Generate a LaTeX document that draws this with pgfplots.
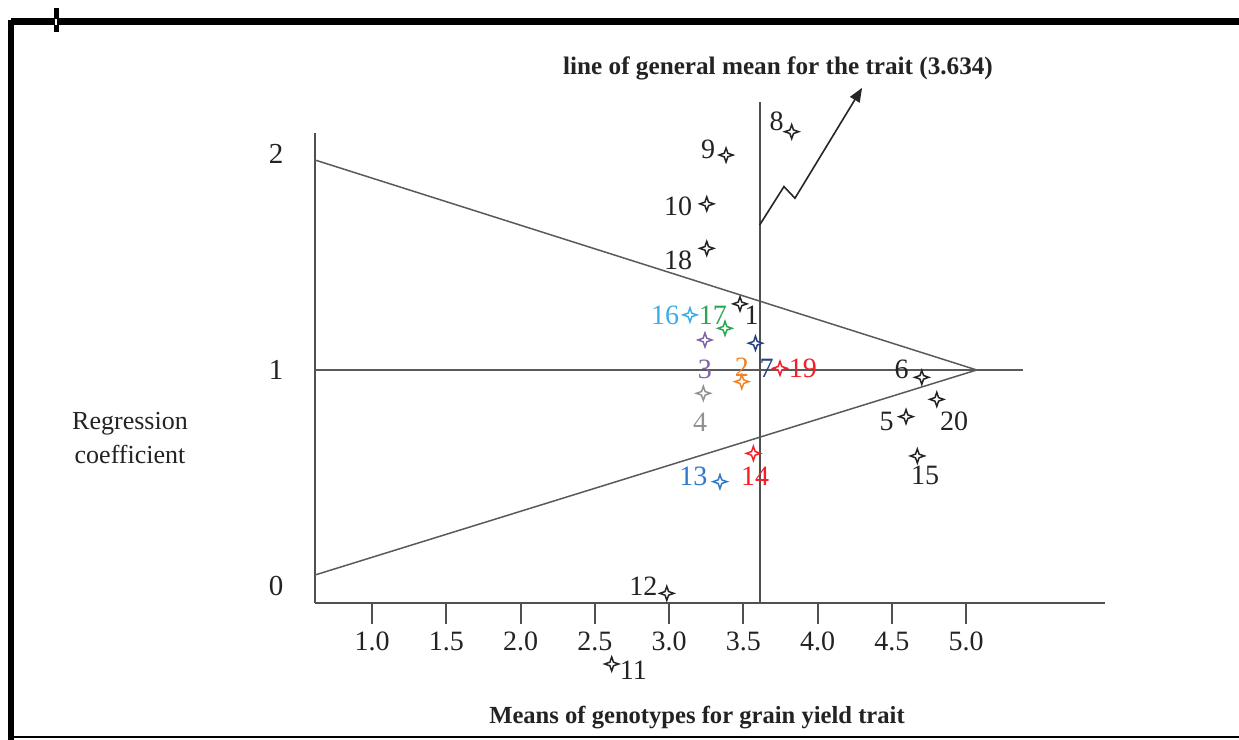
\documentclass[border=0pt]{standalone}
\usepackage{pgfplots}
\pgfplotsset{compat=1.18}
\usetikzlibrary{arrows.meta}
\usepackage{fontspec}
\setmainfont{Liberation Serif}
\definecolor{axisgray}{RGB}{80,80,80}
\definecolor{linegray}{RGB}{90,90,90}
\definecolor{txtblack}{RGB}{35,35,35}
\definecolor{cCyan}{RGB}{60,172,230}
\definecolor{cGreen}{RGB}{40,168,80}
\definecolor{cPurple}{RGB}{128,100,170}
\definecolor{cOrange}{RGB}{240,130,40}
\definecolor{cNavy}{RGB}{40,65,130}
\definecolor{cRed}{RGB}{245,30,40}
\definecolor{cGray}{RGB}{145,145,145}
\definecolor{cBlue}{RGB}{50,120,200}
\pgfdeclareplotmark{sparkle}{%
  \pgfpathmoveto{\pgfqpoint{0pt}{3.5pt}}%
  \pgfpathlineto{\pgfqpoint{0.9pt}{0.9pt}}%
  \pgfpathlineto{\pgfqpoint{3.5pt}{0pt}}%
  \pgfpathlineto{\pgfqpoint{0.9pt}{-0.9pt}}%
  \pgfpathlineto{\pgfqpoint{0pt}{-3.5pt}}%
  \pgfpathlineto{\pgfqpoint{-0.9pt}{-0.9pt}}%
  \pgfpathlineto{\pgfqpoint{-3.5pt}{0pt}}%
  \pgfpathlineto{\pgfqpoint{-0.9pt}{0.9pt}}%
  \pgfpathclose
  \pgfusepathqfillstroke}
\newcommand{\lbl}{\fontsize{14}{14}\selectfont}
\begin{document}
\begin{tikzpicture}
\path[use as bounding box] (0,0) rectangle (619.5pt,-370pt);
\fill[white] (0,0) rectangle (619.5pt,-370pt);
\begin{scope}[x=0.5pt,y=-0.5pt]
  % frame
  \draw[black, line width=3.5pt] (11,21) -- (1245,21);
  \draw[black, line width=3pt] (11,19.5) -- (11,745);
  \draw[black, line width=1.3pt] (11,737) -- (1245,737);
  \fill[black] (54,8) rectangle (58.5,32);
  \fill[white] (55.3,18.5) rectangle (57.2,25);
  % axis titles
  \node[font=\fontsize{13}{17}\selectfont, align=center, text=txtblack] at (130,438) {Regression\\coefficient};
  \node[font=\bfseries\fontsize{12.3}{12}\selectfont, text=txtblack] at (697,718) {Means of genotypes for grain yield trait};
  \node[font=\bfseries\fontsize{12.6}{12}\selectfont, text=txtblack] at (778,68) {line of general mean for the trait (3.634)};
\end{scope}
\begin{axis}[
  at={(157.5pt,-301.5pt)}, anchor=south west,
  scale only axis, width=395pt, height=235pt,
  xmin=0.616, xmax=5.936, ymin=-0.0787, ymax=2.097,
  axis x line*=bottom, axis y line*=left,
  axis line style={draw=axisgray, line width=1pt},
  clip=false,
  xtick={1,1.5,2,2.5,3,3.5,4,4.5,5},
  xticklabels={1.0,1.5,2.0,2.5,3.0,3.5,4.0,4.5,5.0},
  ytick={0,1,2}, yticklabels={0,1,2},
  tick align=outside, major tick length=10.5pt,
  xtick style={draw=axisgray, line width=1pt},
  ytick style={draw=none},
  xticklabel style={font=\fontsize{14}{14}\selectfont, text=txtblack, anchor=center, yshift=-8.5pt},
  yticklabel style={font=\fontsize{14.5}{14.5}\selectfont, text=txtblack, anchor=center, xshift=-9pt},
]
% triangle and reference lines
\addplot[no marks, draw=linegray, line width=0.75pt] coordinates {(0.616,1.972) (5.072,1.0) (0.616,0.051)};
\addplot[no marks, draw=linegray, line width=0.75pt] coordinates {(0.616,1.0) (5.384,1.0)};
\addplot[no marks, draw=axisgray, line width=1pt] coordinates {(3.61,-0.0787) (3.61,2.242)};
\addplot[no marks, draw=black!85, line width=0.8pt, -{Triangle[length=7pt,width=5.5pt]}] coordinates {(3.61,1.671) (3.774,1.849) (3.848,1.795) (4.300,2.306)};
% genotypes (black)
\addplot[only marks, mark=sparkle, mark options={draw=txtblack, fill=white, line width=0.75pt}] coordinates {
(3.478,1.306) (4.596,0.784) (4.702,0.966) (3.826,2.103) (3.384,1.995) (3.254,1.769)
(2.614,-0.361) (2.985,-0.034) (4.672,0.602) (3.254,1.563) (4.803,0.864)};
% coloured genotypes
\addplot[only marks, mark=sparkle, mark options={draw=cOrange, fill=white, line width=0.75pt}] coordinates {(3.490,0.946)};
\addplot[only marks, mark=sparkle, mark options={draw=cPurple, fill=white, line width=0.75pt}] coordinates {(3.242,1.139)};
\addplot[only marks, mark=sparkle, mark options={draw=cGray, fill=white, line width=0.75pt}] coordinates {(3.231,0.892)};
\addplot[only marks, mark=sparkle, mark options={draw=cNavy, fill=white, line width=0.75pt}] coordinates {(3.582,1.124)};
\addplot[only marks, mark=sparkle, mark options={draw=cBlue, fill=white, line width=0.75pt}] coordinates {(3.343,0.483)};
\addplot[only marks, mark=sparkle, mark options={draw=cRed, fill=white, line width=0.75pt}] coordinates {(3.568,0.614)};
\addplot[only marks, mark=sparkle, mark options={draw=cCyan, fill=white, line width=0.75pt}] coordinates {(3.141,1.255)};
\addplot[only marks, mark=sparkle, mark options={draw=cGreen, fill=white, line width=0.75pt}] coordinates {(3.377,1.193)};
\addplot[only marks, mark=sparkle, mark options={draw=cRed, fill=white, line width=0.75pt}] coordinates {(3.747,1.008)};
% labels
\node[font=\lbl, text=txtblack] at (axis cs:3.557,1.255) {1};
\node[font=\lbl, text=cOrange] at (axis cs:3.490,1.013) {2};
\node[font=\lbl, text=cPurple] at (axis cs:3.242,1.005) {3};
\node[font=\lbl, text=cGray] at (axis cs:3.209,0.759) {4};
\node[font=\lbl, text=txtblack] at (axis cs:4.466,0.761) {5};
\node[font=\lbl, text=txtblack] at (axis cs:4.567,1.003) {6};
\node[font=\lbl, text=cNavy] at (axis cs:3.658,1.008) {7};
\node[font=\lbl, text=txtblack] at (axis cs:3.725,2.150) {8};
\node[font=\lbl, text=txtblack] at (axis cs:3.263,2.019) {9};
\node[font=\lbl, text=txtblack] at (axis cs:3.061,1.759) {10};
\node[font=\lbl, text=txtblack] at (axis cs:2.760,-0.389) {11};
\node[font=\lbl, text=txtblack] at (axis cs:2.827,-0.003) {12};
\node[font=\lbl, text=cBlue] at (axis cs:3.164,0.506) {13};
\node[font=\lbl, text=cRed] at (axis cs:3.579,0.506) {14};
\node[font=\lbl, text=txtblack] at (axis cs:4.724,0.514) {15};
\node[font=\lbl, text=cCyan] at (axis cs:2.973,1.255) {16};
\node[font=\lbl, text=cGreen] at (axis cs:3.296,1.255) {17};
\node[font=\lbl, text=txtblack] at (axis cs:3.061,1.509) {18};
\node[font=\lbl, text=cRed] at (axis cs:3.902,1.009) {19};
\node[font=\lbl, text=txtblack] at (axis cs:4.919,0.761) {20};
\end{axis}
\end{tikzpicture}
\end{document}
